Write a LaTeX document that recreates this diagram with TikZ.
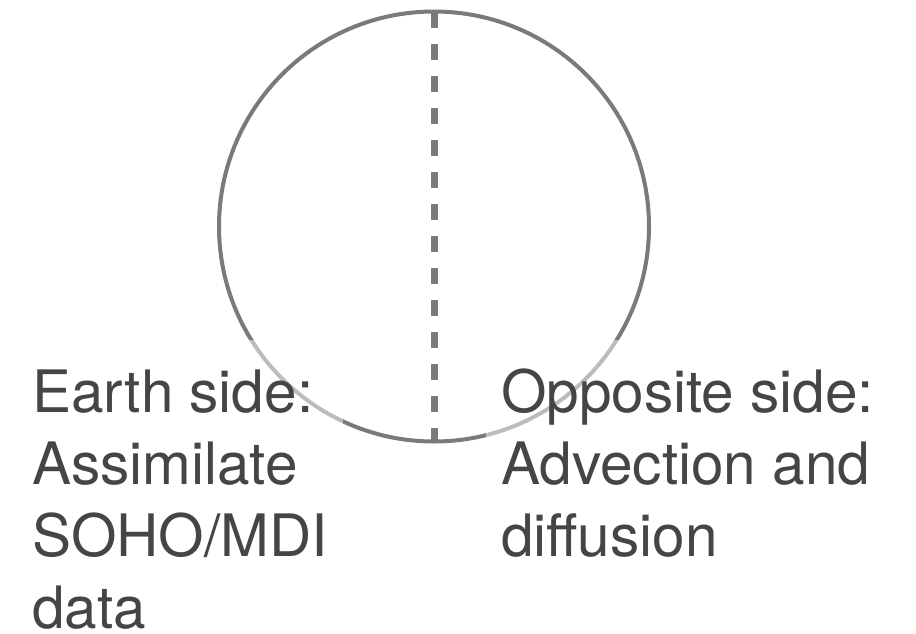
\documentclass[tikz,border=0pt]{standalone}
\usepackage{fontspec}
\setmainfont{TeX Gyre Heros}
\begin{document}
\begin{tikzpicture}[x=1pt,y=-1pt,
  ring/.style={draw=black!52, line width=4pt},
  divider/.style={draw=black!52, line width=7pt, dash pattern=on 16pt off 16pt},
  label/.style={anchor=base west, inner sep=0pt, align=left, text=black!73,
    font=\fontsize{58.5}{72}\selectfont},
  veil/.style={fill=white, fill opacity=0.5}]
  \useasboundingbox (0,0) rectangle (916,633);
  % the solar disc and its central meridian
  \node[circle, ring, minimum size=430pt, inner sep=0pt] (sun) at (434,226.5) {};
  \coordinate (np) at (434,12);
  \coordinate (sp) at (434,441);
  \draw[divider] (np) -- (sp);
  % translucent backings behind the labels
  \fill[veil] (20,340) rectangle (343,633);
  \fill[veil] (486,340) rectangle (910,580);
  % labels (anchored on the baseline of their last line)
  \node[label] (earth) at (32,628) {Earth side:\\Assimilate\\SOHO/MDI\\data};
  \node[label] (far) at (501,556) {Opposite side:\\Advection and\\diffusion};
\end{tikzpicture}
\end{document}
